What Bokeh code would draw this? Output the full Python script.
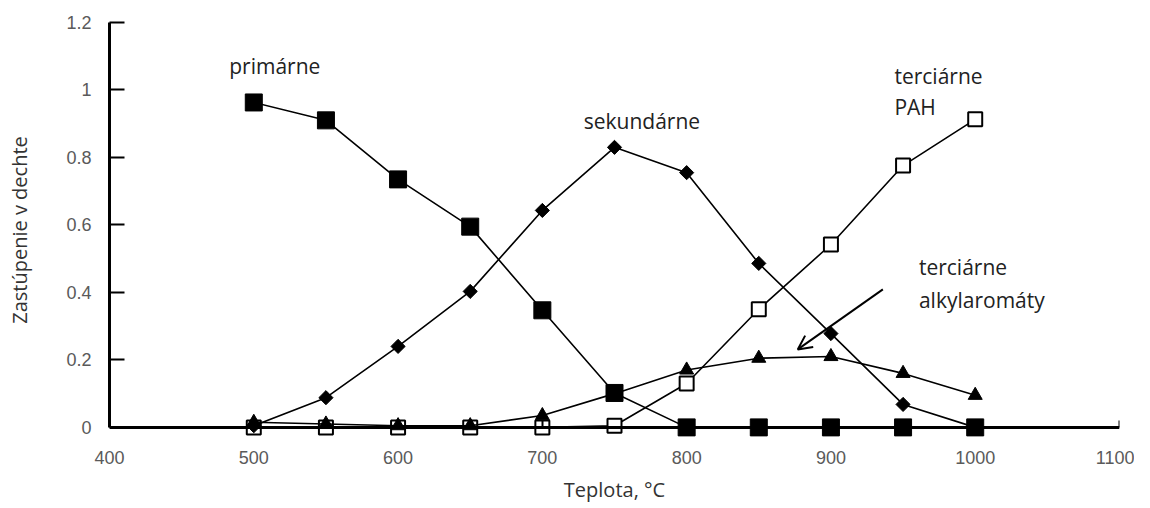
import math
from bokeh.plotting import figure
from bokeh.models import Range1d, FixedTicker, ColumnDataSource, Arrow, OpenHead, LinearAxis
from bokeh.core.properties import value
from bokeh.embed import file_html
from bokeh.resources import INLINE

# ---- data ----
temps = [500, 550, 600, 650, 700, 750, 800, 850, 900, 950, 1000]
primarne = [0.963, 0.910, 0.735, 0.595, 0.347, 0.102, 0.0, 0.0, 0.0, 0.0, 0.0]
sekundarne = [0.005, 0.088, 0.240, 0.403, 0.643, 0.830, 0.755, 0.486, 0.278, 0.068, 0.0]
terc_pah = [0.0, 0.0, 0.0, 0.0, 0.0, 0.005, 0.130, 0.350, 0.542, 0.776, 0.913]
terc_alkyl = [0.015, 0.010, 0.005, 0.005, 0.035, 0.100, 0.170, 0.205, 0.210, 0.160, 0.095]

x_ticks = [400, 500, 600, 700, 800, 900, 1000, 1100]
y_ticks = [0, 0.2, 0.4, 0.6, 0.8, 1.0, 1.2]
y_tick_labels = ["0", "0.2", "0.4", "0.6", "0.8", "1", "1.2"]
x_title = "Teplota, °C"
y_title = "Zastúpenie v dechte"

label_texts = ["primárne", "sekundárne", "terciárne", "PAH", "terciárne", "alkylaromáty"]
label_x = [483, 769, 944, 944, 961, 961]
label_y = [1.07, 0.907, 1.04, 0.951, 0.474, 0.379]
label_align = ["left", "center", "left", "left", "left", "left"]

arrow_start = (936, 0.409)
arrow_end = (877, 0.231)

TICK_FONT = "Liberation Sans"
TICK_SIZE = "18px"
TICK_COLOR = "#5a5a5a"

# ---- figure ----
p = figure(width=1134, height=506, output_backend="svg", toolbar_location=None,
           x_range=Range1d(400, 1100), y_range=Range1d(-0.03, 1.2),
           min_border_left=109, min_border_right=15, min_border_top=22, min_border_bottom=69)
p.outline_line_color = None
p.grid.visible = False
p.background_fill_color = "white"
p.border_fill_color = "white"

# axis line + inward ticks drawn at y = 0 (labels not drawn here)
xa = p.xaxis[0]
xa.fixed_location = 0
xa.ticker = FixedTicker(ticks=x_ticks)
xa.axis_line_width = 3
xa.axis_line_color = "black"
xa.major_tick_in = 7
xa.major_tick_out = 0
xa.major_tick_line_width = 2
xa.minor_tick_line_color = None
xa.major_label_text_color = None
xa.major_label_text_font_size = "1px"
xa.major_label_standoff = 0

# tick labels + title
xl = LinearAxis(ticker=FixedTicker(ticks=x_ticks))
xl.axis_line_color = None
xl.major_tick_line_color = None
xl.minor_tick_line_color = None
xl.major_label_text_font = TICK_FONT
xl.major_label_text_font_size = TICK_SIZE
xl.major_label_text_color = TICK_COLOR
xl.major_label_standoff = 7
xl.axis_label = x_title
xl.axis_label_text_font = "Open Sans"
xl.axis_label_text_font_style = "normal"
xl.axis_label_text_font_size = "20px"
xl.axis_label_text_color = "#333333"
xl.axis_label_standoff = 9
p.add_layout(xl, "below")

ya = p.yaxis[0]
ya.bounds = (0, 1.2)
ya.ticker = FixedTicker(ticks=y_ticks)
ya.major_label_overrides = {t: l for t, l in zip(y_ticks, y_tick_labels)}
ya.axis_line_width = 3
ya.axis_line_color = "black"
ya.major_tick_in = 15
ya.major_tick_out = 0
ya.major_tick_line_width = 2
ya.minor_tick_line_color = None
ya.major_label_text_font = TICK_FONT
ya.major_label_text_font_size = TICK_SIZE
ya.major_label_text_color = TICK_COLOR
ya.major_label_standoff = 18
ya.axis_label = y_title
ya.axis_label_text_font = "Open Sans"
ya.axis_label_text_font_style = "normal"
ya.axis_label_text_font_size = "20px"
ya.axis_label_text_color = "#333333"
ya.axis_label_standoff = 30

src = ColumnDataSource(dict(t=temps, prim=primarne, sek=sekundarne, pah=terc_pah, alk=terc_alkyl))

# PAH (open squares)
p.line("t", "pah", source=src, line_color="black", line_width=1.6)
p.scatter("t", "pah", source=src, marker="square", size=14, fill_color="white",
          line_color="black", line_width=2)
# alkylaromatics (triangles)
p.line("t", "alk", source=src, line_color="black", line_width=1.6)
p.scatter("t", "alk", source=src, marker="triangle", size=14, fill_color="black",
          line_color="black")
# secondary (diamonds)
p.line("t", "sek", source=src, line_color="black", line_width=1.6)
p.scatter("t", "sek", source=src, marker="square", angle=math.pi / 4, size=10,
          fill_color="black", line_color="black")
# primary (large filled squares)
p.line("t", "prim", source=src, line_color="black", line_width=1.6)
p.scatter("t", "prim", source=src, marker="square", size=17, fill_color="black",
          line_color="black")

lab = ColumnDataSource(dict(x=label_x, y=label_y, text=label_texts, align=label_align))
p.text("x", "y", text="text", source=lab, text_align="align", text_baseline="middle",
       text_font=value("Open Sans"), text_font_size="21px", text_color="#222222")

p.add_layout(Arrow(end=OpenHead(size=14, line_width=2, line_color="black"),
                   x_start=arrow_start[0], y_start=arrow_start[1],
                   x_end=arrow_end[0], y_end=arrow_end[1],
                   line_width=2, line_color="black"))

open("out.html", "w").write(file_html(p, INLINE))
